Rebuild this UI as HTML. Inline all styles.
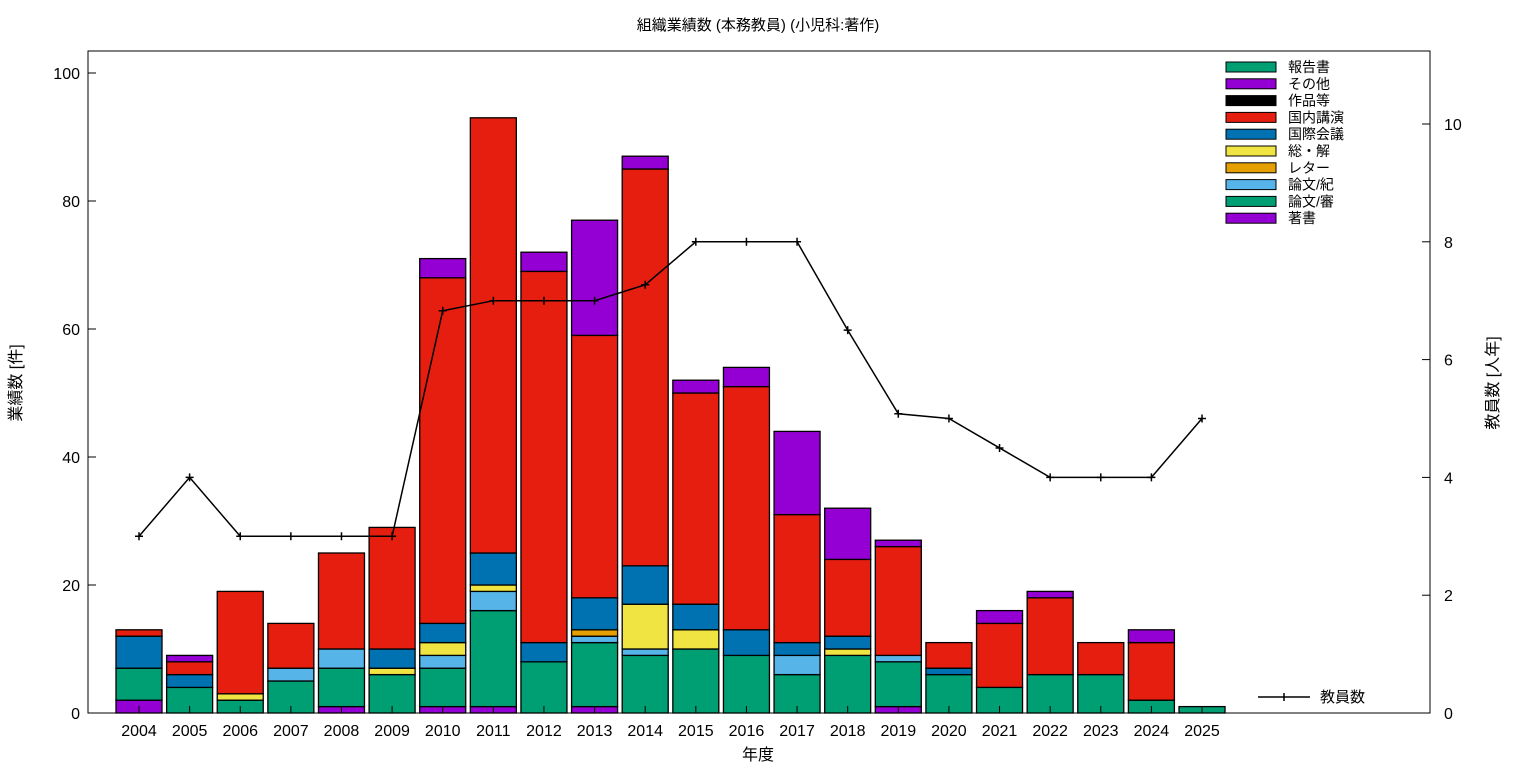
<!DOCTYPE html>
<html><head><meta charset="utf-8"><style>
html,body{margin:0;padding:0;background:#fff}
svg text{font-family:"Liberation Sans","Noto Sans CJK JP",sans-serif;fill:#000}
</style></head><body>
<svg id="s" width="1536" height="768" xmlns="http://www.w3.org/2000/svg"></svg>
<script>
const s=document.getElementById('s');
let h='';
const X0=139,DX=50.62,BW=46,Y0=713,PY=6.4,PR=58.9;
const cols=['#9400d3','#009e73','#56b4e9','#e69f00','#f0e442','#0072b2','#e51e10','#000000','#9400d3','#009e73'];
// order: 著書,審,紀,レター,総,国際,国内,作品,その他,報告書
const d=[
[2,5,0,0,0,5,1,0,0,0],
[0,4,0,0,0,2,2,0,1,0],
[0,2,0,0,1,0,16,0,0,0],
[0,5,2,0,0,0,7,0,0,0],
[1,6,3,0,0,0,15,0,0,0],
[0,6,0,0,1,3,19,0,0,0],
[1,6,2,0,2,3,54,0,3,0],
[1,15,3,0,1,5,68,0,0,0],
[0,8,0,0,0,3,58,0,3,0],
[1,10,1,1,0,5,41,0,18,0],
[0,9,1,0,7,6,62,0,2,0],
[0,10,0,0,3,4,33,0,2,0],
[0,9,0,0,0,4,38,0,3,0],
[0,6,3,0,0,2,20,0,13,0],
[0,9,0,0,1,2,12,0,8,0],
[1,7,1,0,0,0,17,0,1,0],
[0,6,0,0,0,1,4,0,0,0],
[0,4,0,0,0,0,10,0,2,0],
[0,6,0,0,0,0,12,0,1,0],
[0,6,0,0,0,0,5,0,0,0],
[0,2,0,0,0,0,9,0,2,0],
[0,1,0,0,0,0,0,0,0,0]];
const line=[3,4,3,3,3,3,6.83,7,7,7,7.27,8,8,8,6.5,5.08,5,4.5,4,4,4,5];
h+='<rect x="88" y="51" width="1342" height="662" fill="none" stroke="#000" stroke-width="1"/>';
d.forEach((r,i)=>{
 const cx=X0+i*DX;let c=0;
 r.forEach((v,k)=>{if(!v)return;const y1=Y0-(c+v)*PY;h+=`<rect x="${cx-BW/2}" y="${y1}" width="${BW}" height="${v*PY}" fill="${cols[k]}" stroke="#000" stroke-width="1.3"/>`;c+=v;});
 h+=`<line x1="${cx}" y1="713" x2="${cx}" y2="706" stroke="#000"/>`;
 h+=`<text x="${cx}" y="736" font-size="16" text-anchor="middle">${2004+i}</text>`;
});
for(let v=0;v<=100;v+=20){const y=Y0-v*PY;h+=`<line x1="88" y1="${y}" x2="96" y2="${y}" stroke="#000"/><text x="80" y="${y+6}" font-size="16" text-anchor="end">${v}</text>`;}
for(let v=0;v<=10;v+=2){const y=Y0-v*PR;h+=`<line x1="1422" y1="${y}" x2="1430" y2="${y}" stroke="#000"/><text x="1444" y="${y+6}" font-size="16">${v}</text>`;}
let p='';line.forEach((v,i)=>{p+=(i?'L':'M')+(X0+i*DX)+' '+(Y0-v*PR);});
h+=`<path d="${p}" fill="none" stroke="#000" stroke-width="1.5"/>`;
line.forEach((v,i)=>{const x=X0+i*DX,y=Y0-v*PR;h+=`<path d="M${x-4} ${y}H${x+4}M${x} ${y-4}V${y+4}" stroke="#000" stroke-width="1.5"/>`;});
const lg=[['報告書',9],['その他',8],['作品等',7],['国内講演',6],['国際会議',5],['総・解',4],['レター',3],['論文/紀',2],['論文/審',1],['著書',0]];
lg.forEach((l,j)=>{const y=67+j*16.8;h+=`<rect x="1226" y="${y-5}" width="50" height="10" fill="${cols[l[1]]}" stroke="#000" stroke-width="1"/><text x="1288" y="${y+5}" font-size="14">${l[0]}</text>`;});
h+=`<path d="M1258 697H1310M1284 693V701" stroke="#000" stroke-width="1.5"/><text x="1320" y="702" font-size="15">教員数</text>`;
h+=`<text x="758" y="30" font-size="15" text-anchor="middle">組織業績数 (本務教員) (小児科:著作)</text>`;
h+=`<text x="758" y="760" font-size="16" text-anchor="middle">年度</text>`;
h+=`<text transform="translate(21,383) rotate(-90)" font-size="16" text-anchor="middle">業績数 [件]</text>`;
h+=`<text transform="translate(1498,383) rotate(-90)" font-size="16" text-anchor="middle">教員数 [人年]</text>`;
s.innerHTML=h;
</script>
</body></html>
